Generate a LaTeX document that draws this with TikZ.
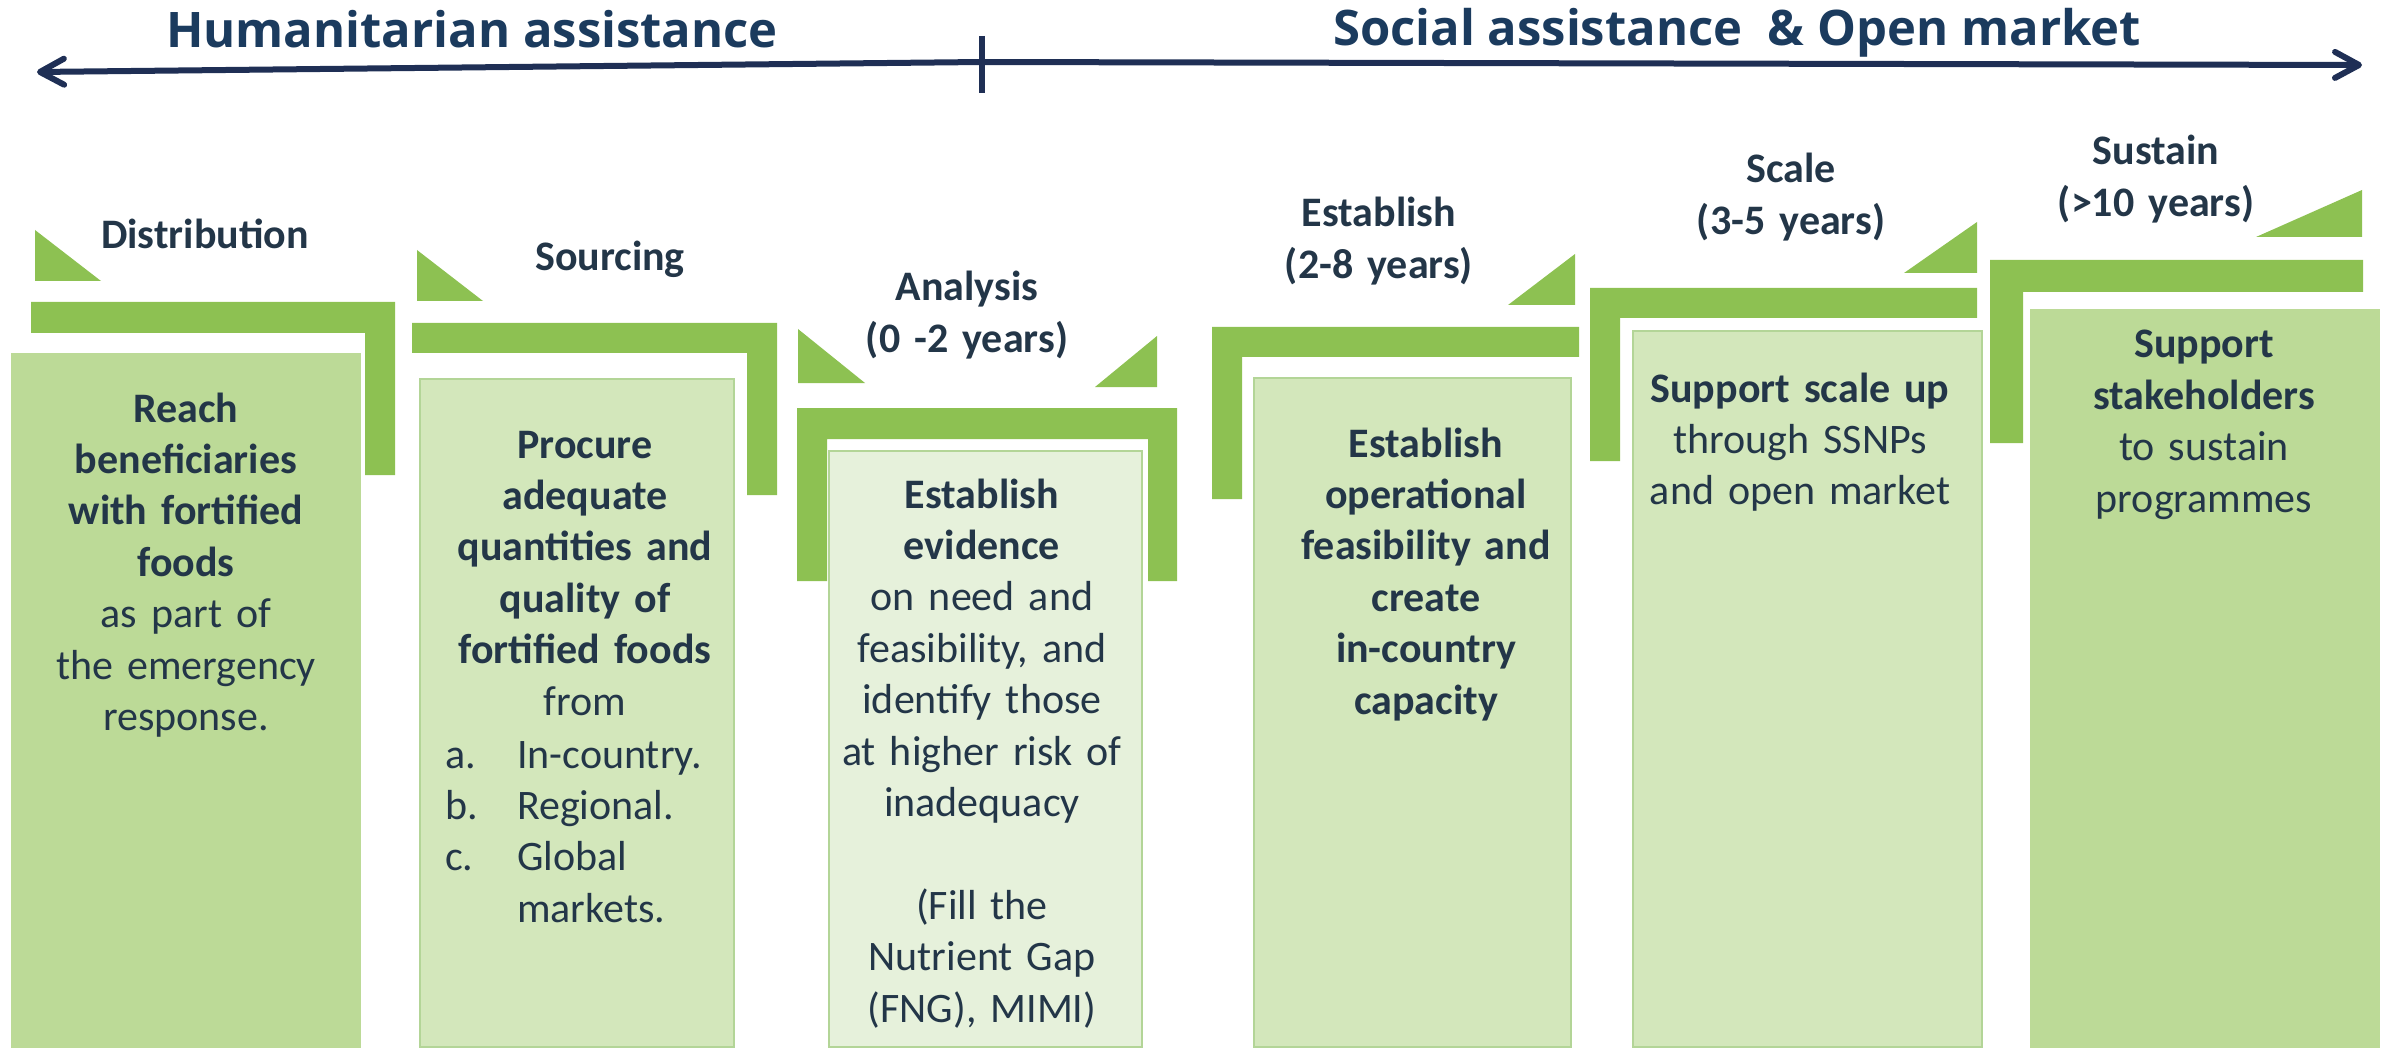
\documentclass[tikz,border=0pt]{standalone}
\usepackage{fontspec}
\setmainfont{Carlito}
\newfontfamily\titlefont{Open Sans}
\usetikzlibrary{arrows.meta}
\definecolor{navy}{HTML}{1F2F55}
\definecolor{titleblue}{HTML}{1B3B5E}
\definecolor{txtcol}{HTML}{233648}
\definecolor{bargreen}{HTML}{8DC152}
\definecolor{boxdark}{HTML}{BCDA97}
\definecolor{boxmid}{HTML}{D3E7BB}
\definecolor{boxlight}{HTML}{E6F1DB}
\definecolor{boxline}{HTML}{B3D597}
\tikzset{
  greenshape/.style={fill=bargreen},
  darkbox/.style={fill=boxdark},
  midbox/.style={fill=boxmid, draw=boxline, line width=2pt},
  lightbox/.style={fill=boxlight, draw=boxline, line width=2pt},
  headtext/.style={inner sep=0pt, anchor=base, text width=400pt, align=center, text=txtcol, font=\fontsize{42}{51.4}\selectfont\bfseries},
  bodytext/.style={inner sep=0pt, anchor=base, text width=400pt, align=center, text=txtcol, font=\fontsize{42}{51.4}\selectfont},
  listtext/.style={inner sep=0pt, anchor=base west, text width=300pt, align=left, text=txtcol, font=\fontsize{42}{51.4}\selectfont},
  titletext/.style={inner sep=0pt, anchor=base, text=titleblue, font=\titlefont\bfseries\fontsize{49}{59}\selectfont},
  timeline/.style={draw=navy, line width=6pt, -{Straight Barb[length=24pt,width=26pt,round]}},
}
\begin{document}
\begin{tikzpicture}[x=1pt,y=-1pt]
\useasboundingbox (0,0) rectangle (2382,1048);

% ---- titles and timeline ----
\node[titletext] (t1) at (472,48) {Humanitarian assistance};
\node[titletext] (t2) at (1737,46) {Social assistance\ \ \& Open market};
\coordinate (mid) at (982,62);
\coordinate (lend) at (37,72);
\coordinate (rend) at (2362,65);
\coordinate (tktop) at (982,36);
\coordinate (tkbot) at (982,93);
\draw[timeline] (mid) -- (lend);
\draw[timeline] (mid) -- (rend);
\draw[draw=navy, line width=6pt] (tktop) -- (tkbot);

% ---- boxes ----
\fill[darkbox] (11,353) rectangle (361,1048);
\path[midbox] (420,379) rectangle (734,1047);
\path[lightbox] (829,451) rectangle (1142,1047);
\path[midbox] (1254,378) rectangle (1571,1047);
\path[midbox] (1633,331) rectangle (1982,1047);
\fill[darkbox] (2030,309) rectangle (2380,1048);

% ---- Distribution ----
\fill[greenshape] (35,230) -- (35,281) -- (101,281) -- cycle;
\fill[greenshape] (31,302) -- (395,302) -- (395,475) -- (365,475) -- (365,333) -- (31,333) -- cycle;
\node[headtext] (h1) at (205,249) {Distribution};
\node[bodytext] (b1) at (186,422) {{\bfseries Reach\\ beneficiaries\\ with fortified\\ foods}\\ as part of\\ the emergency\\ response.};

% ---- Sourcing ----
\fill[greenshape] (417,250) -- (417,301) -- (483,301) -- cycle;
\fill[greenshape] (412,323) -- (777,323) -- (777,495) -- (747,495) -- (747,353) -- (412,353) -- cycle;
\node[headtext] (h2) at (610,271) {Sourcing};
\node[bodytext] (b2) at (585,458) {{\bfseries Procure\\ adequate\\ quantities and\\ quality of\\ fortified foods}\\ from};
\node[listtext] (l2) at (445,768) {\makebox[72pt][l]{a.}In-country.\\ \makebox[72pt][l]{b.}Regional.\\ \makebox[72pt][l]{c.}Global\\ \hspace*{72pt}markets.};

% ---- Analysis ----
\fill[greenshape] (798,329) -- (798,383) -- (865,383) -- cycle;
\fill[greenshape] (1095,387) -- (1157,387) -- (1157,336) -- cycle;
\fill[greenshape] (797,408) -- (1177,408) -- (1177,581) -- (1148,581) -- (1148,439) -- (827,439) -- (827,581) -- (797,581) -- cycle;
\node[headtext] (h3) at (967,301) {Analysis\\ (0 -2 years)};
\node[bodytext] (b3) at (982,508) {{\bfseries Establish\\ evidence}\\ on need and\\ feasibility, and\\ identify those\\ at higher risk of\\ inadequacy\\[51.4pt] (Fill the\\ Nutrient Gap\\ (FNG), MIMI)};

% ---- Establish ----
\fill[greenshape] (1508,305) -- (1575,305) -- (1575,254) -- cycle;
\fill[greenshape] (1212,327) -- (1579,327) -- (1579,357) -- (1242,357) -- (1242,499) -- (1212,499) -- cycle;
\node[headtext] (h4) at (1379,227) {Establish\\ (2-8 years)};
\node[bodytext] (b4) at (1426,457) {\bfseries Establish\\ operational\\ feasibility and\\ create\\ in-country\\ capacity};

% ---- Scale ----
\fill[greenshape] (1904,273) -- (1977,273) -- (1977,222) -- cycle;
\fill[greenshape] (1590,288) -- (1977,288) -- (1977,318) -- (1620,318) -- (1620,461) -- (1590,461) -- cycle;
\node[headtext] (h5) at (1791,183) {Scale\\ (3-5 years)};
\node[bodytext] (b5) at (1800,402) {{\bfseries Support scale up}\\ through SSNPs\\ and open market};

% ---- Sustain ----
\fill[greenshape] (2256,237) -- (2362,237) -- (2362,190) -- cycle;
\fill[greenshape] (1990,260) -- (2363,260) -- (2363,292) -- (2023,292) -- (2023,443) -- (1990,443) -- cycle;
\node[headtext] (h6) at (2156,165) {Sustain\\ (>10 years)};
\node[bodytext] (b6) at (2204,358) {{\bfseries Support\\ stakeholders}\\ to sustain\\ programmes};
\end{tikzpicture}
\end{document}
